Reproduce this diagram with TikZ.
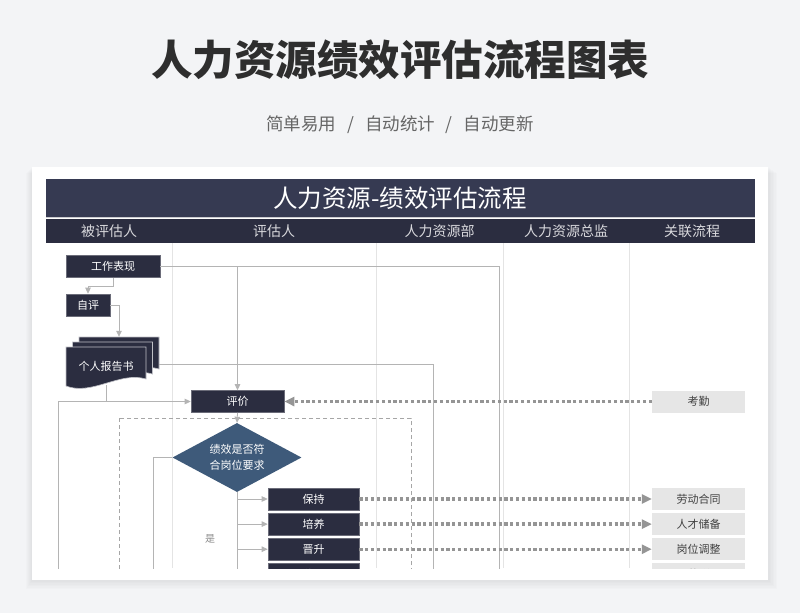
\documentclass[tikz,border=0pt]{standalone}
\usepackage{fontspec}
\setmainfont{Noto Sans CJK SC}
\usepackage{xcolor}
\usepackage{tikz}
\usetikzlibrary{shapes.geometric, arrows.meta, positioning, calc}

\definecolor{pagebg}{HTML}{F3F4F6}
\definecolor{navy}{HTML}{2B2D40}
\definecolor{navybar}{HTML}{363A52}
\definecolor{steel}{HTML}{3E5A7A}
\definecolor{linegray}{HTML}{B4B4B4}
\definecolor{dotgray}{HTML}{959595}
\definecolor{relfill}{HTML}{E6E6E6}
\definecolor{lanegray}{HTML}{E4E4E4}

\begin{document}
\begin{tikzpicture}[
  x=1pt, y=-1pt,
  box/.style={rectangle, fill=navy, draw=navy!70!white, line width=0.6pt, minimum height=22pt, inner sep=0pt, text=white, font=\fontsize{11}{13}\selectfont},
  relbox/.style={rectangle, fill=relfill, minimum width=93pt, minimum height=22pt, inner sep=0pt, text=black!75, font=\fontsize{11}{13}\selectfont},
  decision/.style={diamond, fill=steel, aspect=1.87, minimum width=129pt, minimum height=69pt, inner sep=0pt, text=white, align=center, font=\fontsize{11}{16}\selectfont},
  lanehead/.style={text=white!82!navy, font=\fontsize{14}{16}\selectfont},
  lane/.style={draw=lanegray, line width=0.8pt},
  line/.style={draw=linegray, line width=0.8pt},
  arrow/.style={line, -{Triangle[length=6pt,width=5.5pt]}},
  dotarrow/.style={draw=dotgray, line width=3.4pt, dash pattern=on 3.2pt off 2.6pt, -{Triangle[length=10pt,width=9pt]}},
  groupline/.style={draw=black!35, line width=0.8pt, dash pattern=on 4pt off 3pt}
]
  \useasboundingbox (0,0) rectangle (800,613);
  \fill[pagebg] (0,0) rectangle (800,613);

  \node[font=\fontsize{41.5}{45}\selectfont\bfseries, text=black!82] (title) at (400,60) {人力资源绩效评估流程图表};
  \node[font=\fontsize{17.5}{20}\selectfont, text=black!60] (subtitle) at (400,125) {简单易用\hspace{11pt}/\hspace{11pt}自动统计\hspace{11pt}/\hspace{11pt}自动更新};

  % card
  \foreach \s in {1,...,6}
    \fill[black, opacity=0.012] (32-\s,167+\s) rectangle (768+1.5*\s,580+1.5*\s);
  \fill[white] (32,167) rectangle (768,580);

  % header
  \fill[navybar] (46,179) rectangle (755,217);
  \fill[navy] (46,218.5) rectangle (755,243);
  \draw[white!75!navy, line width=1pt] (46,217.7) -- (755,217.7);
  \node[text=white, font=\fontsize{24.5}{27}\selectfont] (chart) at (400,198) {人力资源-绩效评估流程};
  \node[lanehead] (laneA) at (109,231) {被评估人};
  \node[lanehead] (laneB) at (274,231) {评估人};
  \node[lanehead] (laneC) at (439.5,231) {人力资源部};
  \node[lanehead] (laneD) at (566,231) {人力资源总监};
  \node[lanehead] (laneE) at (692,231) {关联流程};

  \begin{scope}
    \clip (46,243) rectangle (755,568);
    \foreach \x in {172,376,503,629}
      \draw[lane] (\x,243) -- (\x,568);
    \draw[groupline] (119,418) rectangle (411,650);

    \node[box, minimum width=94pt] (work) at (113,266.5) {工作表现};
    \node[box, minimum width=44pt] (selfev) at (88,305) {自评};
    \foreach \k in {2,1,0}
      \filldraw[fill=navy, draw=white!70!navy, line width=0.6pt, shift={(6.5*\k,-5*\k)}]
        (66,347) -- (146,347) -- (146,379) .. controls (120,371) and (92,396) .. (66,386) -- cycle;
    \node[text=white, font=\fontsize{11}{13}\selectfont, minimum width=80pt, minimum height=38pt, inner sep=0pt] (report) at (106,366) {个人报告书};
    \node[box, minimum width=93pt] (eval) at (237.5,401.5) {评价};
    \node[decision] (fit) at (237,457.5) {绩效是否符\\合岗位要求};
    \node[box, minimum width=91pt] (keep) at (313.5,499) {保持};
    \node[box, minimum width=91pt, below=2.5pt of keep] (train) {培养};
    \node[box, minimum width=91pt, below=2.5pt of train] (promote) {晋升};
    \node[box, minimum width=91pt, below=2.5pt of promote] (dismiss) {辞退};
    \node[font=\fontsize{10}{12}\selectfont, text=black!45] (yes) at (210,539) {是};

    \node[relbox] (attend) at (698.5,401.5) {考勤};
    \node[relbox] (contract) at (keep -| attend) {劳动合同};
    \node[relbox] (talent) at (train -| attend) {人才储备};
    \node[relbox] (adjust) at (promote -| attend) {岗位调整};
    \node[relbox] (salary) at (dismiss -| attend) {薪酬};

    \coordinate (reptop) at ($(report.north)+(13,-10)$);
    \coordinate (repright) at ($(report.east)+(13,-2)$);
    \coordinate (hrbottom) at (433,600);
    \coordinate (dirbottom) at (499,600);
    \coordinate (loopleft) at (58,600);
    \coordinate (noend) at (153,600);
    \coordinate (yesend) at (237,600);

    \draw[arrow] (work.south) -- ++(0,9) -| (selfev.north);
    \draw[arrow] (selfev.east) -| (reptop);
    \draw[line] (repright) -| (hrbottom);
    \draw[line] (work.east) -| (dirbottom);
    \draw[arrow] (work.east -| eval.north) -- (eval.north);
    \draw[arrow] (loopleft) |- (eval.west);
    \draw[line] (report.south) -- (report.south |- eval.west);
    \draw[arrow] (eval.south) -- (fit.north);
    \draw[line] (fit.west) -| (noend);
    \draw[line] (fit.south) -- (yesend);
    \foreach \n in {keep,train,promote,dismiss}
      \draw[arrow] (fit.south |- \n.west) -- (\n.west);

    \draw[dotarrow] (attend.west) -- (eval.east);
    \foreach \a/\b in {keep/contract,train/talent,promote/adjust,dismiss/salary}
      \draw[dotarrow] (\a.east) -- (\b.west);
  \end{scope}
\end{tikzpicture}
\end{document}
